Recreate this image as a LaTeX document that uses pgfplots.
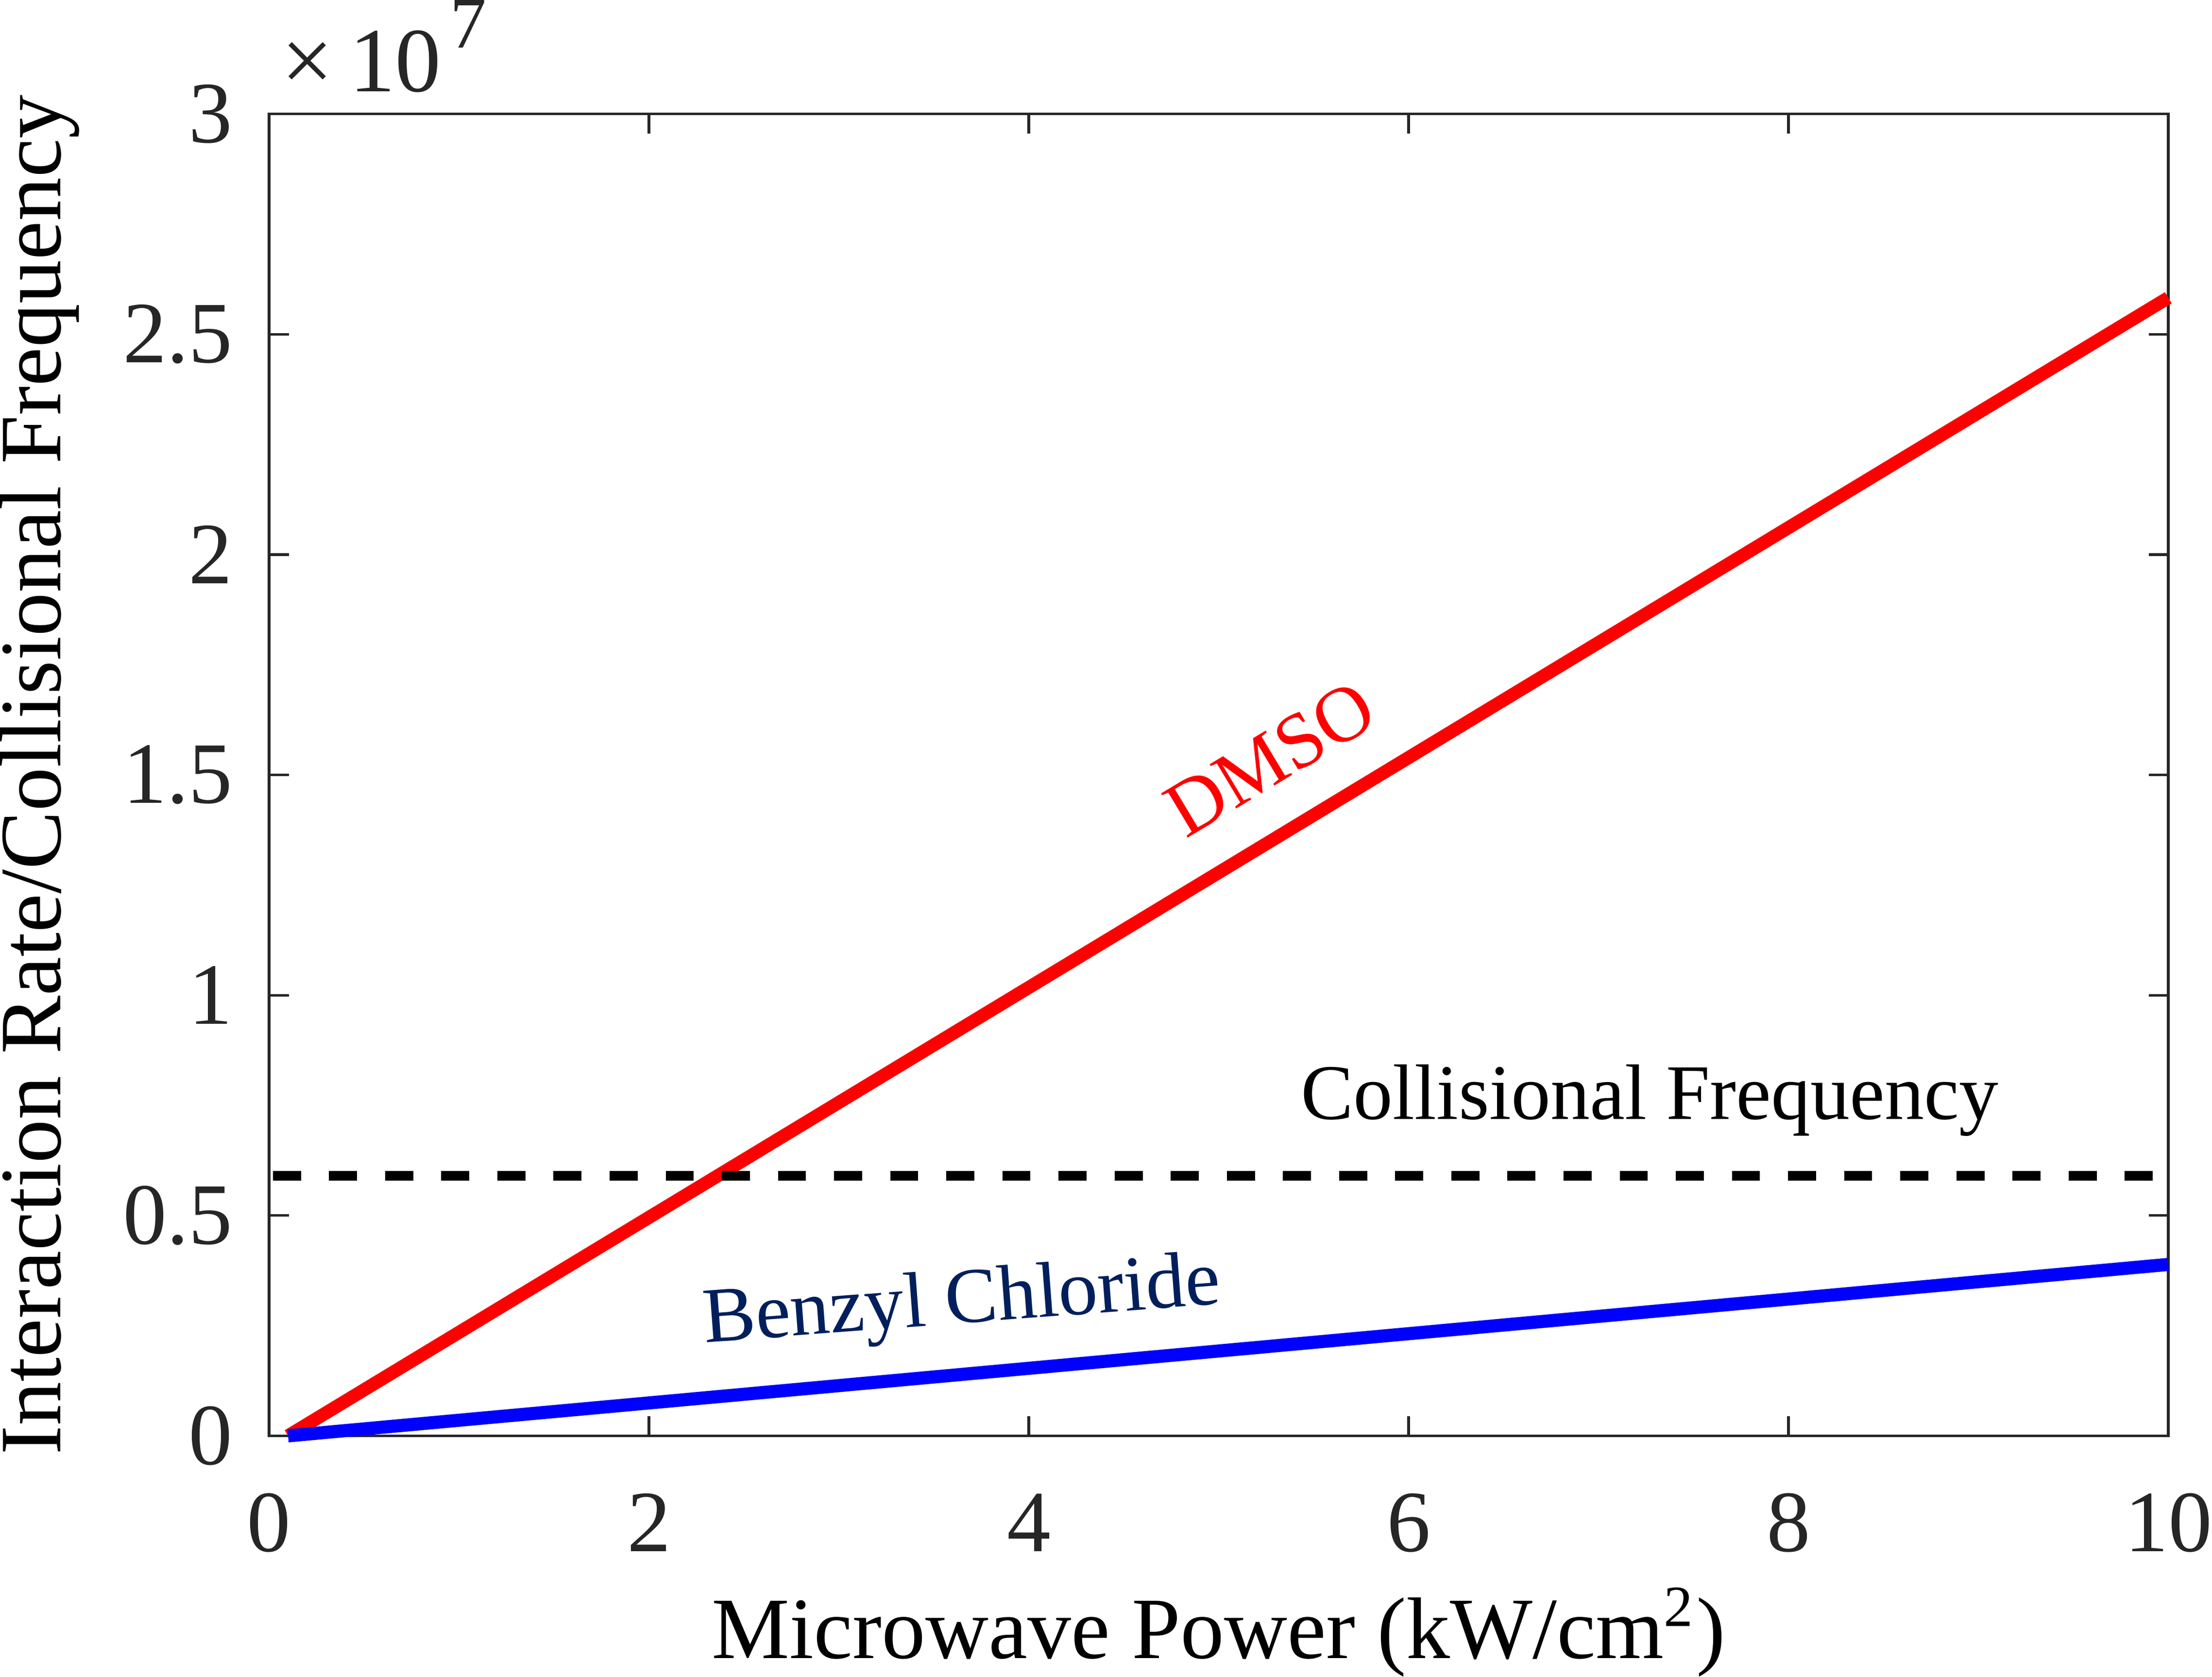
\documentclass[border=0pt]{standalone}
\usepackage{fontspec}
\setmainfont{Liberation Serif}
\usepackage{pgfplots}
\pgfplotsset{compat=1.18}
\definecolor{axgray}{rgb}{0.15,0.15,0.15}
\definecolor{navytext}{rgb}{0,0.12,0.36}
\begin{document}
\begin{tikzpicture}
\begin{axis}[
  scale only axis,
  width=260.6pt, height=181.4pt,
  xmin=0, xmax=10, ymin=0, ymax=3,
  xtick={0,2,4,6,8,10},
  xticklabels={0,2,4,6,8,10},
  ytick={0,0.5,1,1.5,2,2.5,3},
  yticklabels={0,0.5,1,1.5,2,2.5,3},
  tick align=inside,
  major tick length=2.7pt,
  axis line style={axgray, line width=0.35pt},
  every tick/.style={axgray, line width=0.35pt},
  tick label style={font=\fontsize{12}{14}\selectfont, text=axgray, inner sep=0pt},
  xticklabel style={anchor=base, yshift=-15.9pt},
  yticklabel style={anchor=east, xshift=-4.8pt},
  every axis x label/.style={at={(axis description cs:0.5,0)}, anchor=base, yshift=-30.5pt, inner sep=0pt, font=\fontsize{12}{14}\selectfont},
  every axis y label/.style={at={(axis description cs:0,0.5)}, anchor=base, xshift=-28.6pt, rotate=90, inner sep=0pt, font=\fontsize{12}{14}\selectfont},
  xlabel={Microwave Power (kW/cm\textsuperscript{2})},
  ylabel={Interaction Rate/Collisional Frequency},
  clip=false,
]
\addplot[red, line width=1.8pt] coordinates {(0.1,0) (10,2.583)};
\addplot[blue, line width=1.8pt] coordinates {(0.1,0) (10,0.389)};
\addplot[black, line width=1.33pt, dash pattern=on 3.85pt off 3.85pt] coordinates {(0.02,0.59) (10,0.59)};

\node[anchor=base, rotate=31, text=red, inner sep=0pt, font=\fontsize{10.8}{13}\selectfont] at (axis cs:5.34,1.487) {DMSO};
\node[anchor=base, inner sep=0pt, font=\fontsize{10.8}{13}\selectfont] at (axis cs:7.27,0.719) {Collisional Frequency};
\node[anchor=base, rotate=4.3, text=navytext, inner sep=0pt, font=\fontsize{10.8}{13}\selectfont] at (axis cs:3.655,0.256) {Benzyl Chloride};
\node[anchor=base west, inner sep=0pt, xshift=1.5pt, yshift=3.1pt, text=axgray, font=\fontsize{12.6}{14}\selectfont] at (rel axis cs:0,1) {×\hspace{2.2pt}10\hspace{1.2pt}\raisebox{6pt}{\fontsize{10}{12}\selectfont 7}};
\end{axis}
\end{tikzpicture}
\end{document}
